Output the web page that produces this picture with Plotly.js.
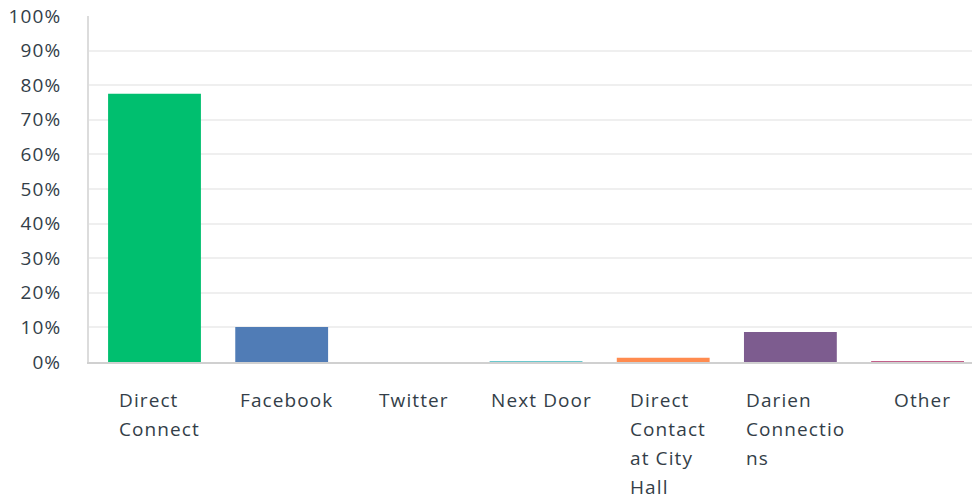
<!DOCTYPE html>
<html>
<head>
<meta charset="utf-8">
<script src="https://cdn.plot.ly/plotly-3.0.1.min.js"></script>
<style>
  html, body { margin: 0; padding: 0; background: #ffffff; }
  #chart { width: 972px; height: 502px; }
  svg text { letter-spacing: 1.1px; }
</style>
</head>
<body>
<div id="chart"></div>
<script>
const categories = ["Direct Connect", "Facebook", "Twitter", "Next Door", "Direct Contact at City Hall", "Darien Connections", "Other"];
const labelLines = [["Direct", "Connect"], ["Facebook"], ["Twitter"], ["Next Door"], ["Direct", "Contact", "at City", "Hall"], ["Darien", "Connectio", "ns"], ["Other"]];
const values = [77.5, 10.1, 0, 0.3, 1.2, 8.7, 0.3];
const barColors = ["#00bf6f", "#507cb6", "#6bc8cd", "#6bc8cd", "#ff8b4f", "#7d5c8f", "#c2608a"];

const FONT = "Open Sans, sans-serif";
const FSIZE = 19;
const TXT = "#333e48";
const SPACING = 1.1;

const ctx = document.createElement("canvas").getContext("2d");
ctx.font = FSIZE + "px 'Open Sans'";
function textWidth(s) { return ctx.measureText(s).width + SPACING * s.length; }

const annotations = [];
labelLines.forEach((lines, i) => {
  const maxW = Math.max(...lines.map(textWidth));
  lines.forEach((line, j) => {
    annotations.push({
      x: categories[i], y: 0, xref: "x", yref: "paper",
      text: line, showarrow: false,
      xanchor: "left", yanchor: "top",
      xshift: -maxW / 2 + 3, yshift: -23 - j * 29,
      font: {family: FONT, size: FSIZE, color: TXT}
    });
  });
});

const data = [{
  type: "bar",
  x: categories,
  y: values,
  marker: {color: barColors},
  hoverinfo: "none"
}];

const layout = {
  width: 972, height: 502,
  margin: {l: 89, r: 0, t: 16, b: 140},
  paper_bgcolor: "#ffffff", plot_bgcolor: "#ffffff",
  showlegend: false,
  bargap: 0.27,
  font: {family: FONT, size: FSIZE, color: TXT},
  xaxis: {
    type: "category",
    range: [-0.515, 6.428],
    showticklabels: false,
    showgrid: false,
    zeroline: false,
    showline: true, linecolor: "#d0d0d0", linewidth: 2,
    ticks: ""
  },
  yaxis: {
    range: [0, 100],
    dtick: 10,
    ticksuffix: "%",
    showgrid: true, gridcolor: "#efefef", gridwidth: 2,
    zeroline: false,
    showline: true, linecolor: "#dcdcdc", linewidth: 2,
    ticks: "",
    ticklabelstandoff: 22,
    tickfont: {family: FONT, size: FSIZE, color: TXT}
  },
  annotations: annotations
};

Plotly.newPlot("chart", data, layout, {staticPlot: true, displayModeBar: false});
</script>
</body>
</html>
